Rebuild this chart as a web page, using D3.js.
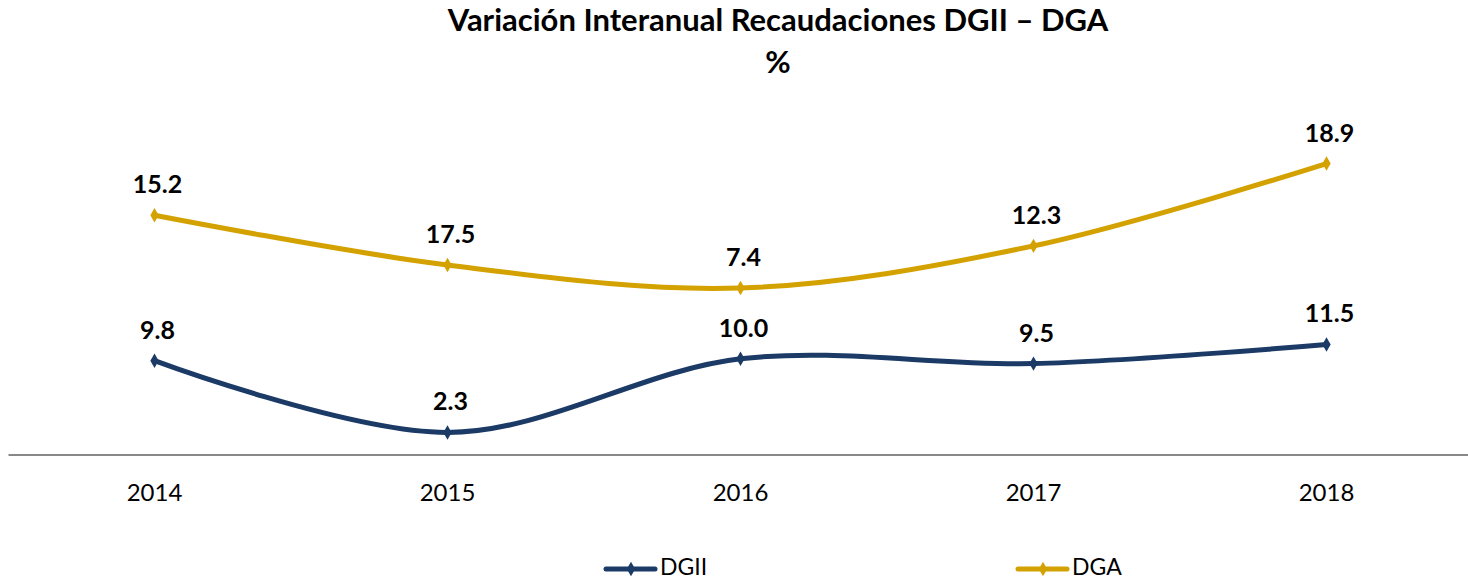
<!DOCTYPE html>
<html>
<head>
<meta charset="utf-8">
<script src="https://cdn.jsdelivr.net/npm/d3@7"></script>
<style>
  body { margin: 0; background: #fff; }
  svg text { font-family: Lato, "Open Sans", sans-serif; }
</style>
</head>
<body>
<svg id="chart" width="1468" height="581"></svg>
<script>
const years = ['2014', '2015', '2016', '2017', '2018'];
const dgii = [9.8, 2.3, 10.0, 9.5, 11.5];
const dga = [15.2, 17.5, 7.4, 12.3, 18.9];
const series_names = ['DGII', 'DGA'];
const series_colors = ['#1b3a66', '#d4a200'];

const svg = d3.select('#chart');

// stacked lines: DGA drawn on top of DGII
const rows = years.map((y, i) => ({ year: y, DGII: dgii[i], DGA: dga[i] }));
const stacked = d3.stack().keys(series_names)(rows);

const x = d3.scaleBand()
  .domain(years)
  .range([8, 1473]);

const y = d3.scaleLinear()
  .domain([0, 35])
  .range([454.5, 454.5 - 35 * 9.57]);

const cx = d => x(d.data.year) + x.bandwidth() / 2;

// title
svg.append('text')
  .attr('x', 778).attr('y', 31)
  .attr('text-anchor', 'middle')
  .attr('font-size', 31).attr('font-weight', 'bold')
  .text('Variación Interanual Recaudaciones DGII – DGA');
svg.append('text')
  .attr('x', 778).attr('y', 73)
  .attr('text-anchor', 'middle')
  .attr('font-size', 31).attr('font-weight', 'bold')
  .text('%');

// axis
const xAxis = svg.append('g')
  .attr('transform', `translate(0,${y(0)})`)
  .call(d3.axisBottom(x).tickSize(0).tickPadding(29));
xAxis.select('.domain').attr('stroke', '#888').attr('stroke-width', 2);
xAxis.selectAll('text')
  .attr('font-size', 24)
  .attr('fill', '#000')
  .style('font-family', 'Lato, "Open Sans", sans-serif');

const line = d3.line()
  .x(cx)
  .y(d => y(d[1]))
  .curve(d3.curveCatmullRom.alpha(0.5));

const diamond = d3.symbol().type(d3.symbolDiamond).size(60);

stacked.forEach((s, k) => {
  const g = svg.append('g');
  g.append('path')
    .datum(s)
    .attr('fill', 'none')
    .attr('stroke', series_colors[k])
    .attr('stroke-width', 5)
    .attr('d', line);

  g.selectAll('path.mk')
    .data(s).enter()
    .append('path')
    .attr('class', 'mk')
    .attr('d', diamond)
    .attr('fill', series_colors[k])
    .attr('transform', d => `translate(${cx(d)},${y(d[1])})`);

  g.selectAll('text')
    .data(s).enter()
    .append('text')
    .attr('x', d => cx(d) + 3)
    .attr('y', d => y(d[1]) - 22)
    .attr('text-anchor', 'middle')
    .attr('font-size', 25).attr('font-weight', 'bold')
    .text(d => d3.format('.1f')(d.data[s.key]));
});

// legend
const leg = [[606, 'DGII'], [1018, 'DGA']];
leg.forEach(([lx, name], k) => {
  const g = svg.append('g').attr('transform', `translate(${lx},569)`);
  g.append('line')
    .attr('x1', 0).attr('x2', 49)
    .attr('stroke', series_colors[k]).attr('stroke-width', 5)
    .attr('stroke-linecap', 'round');
  g.append('path').attr('d', diamond).attr('fill', series_colors[k])
    .attr('transform', 'translate(25,0)');
  g.append('text')
    .attr('x', 54).attr('y', 6)
    .attr('font-size', 23)
    .text(name);
});
</script>
</body>
</html>
